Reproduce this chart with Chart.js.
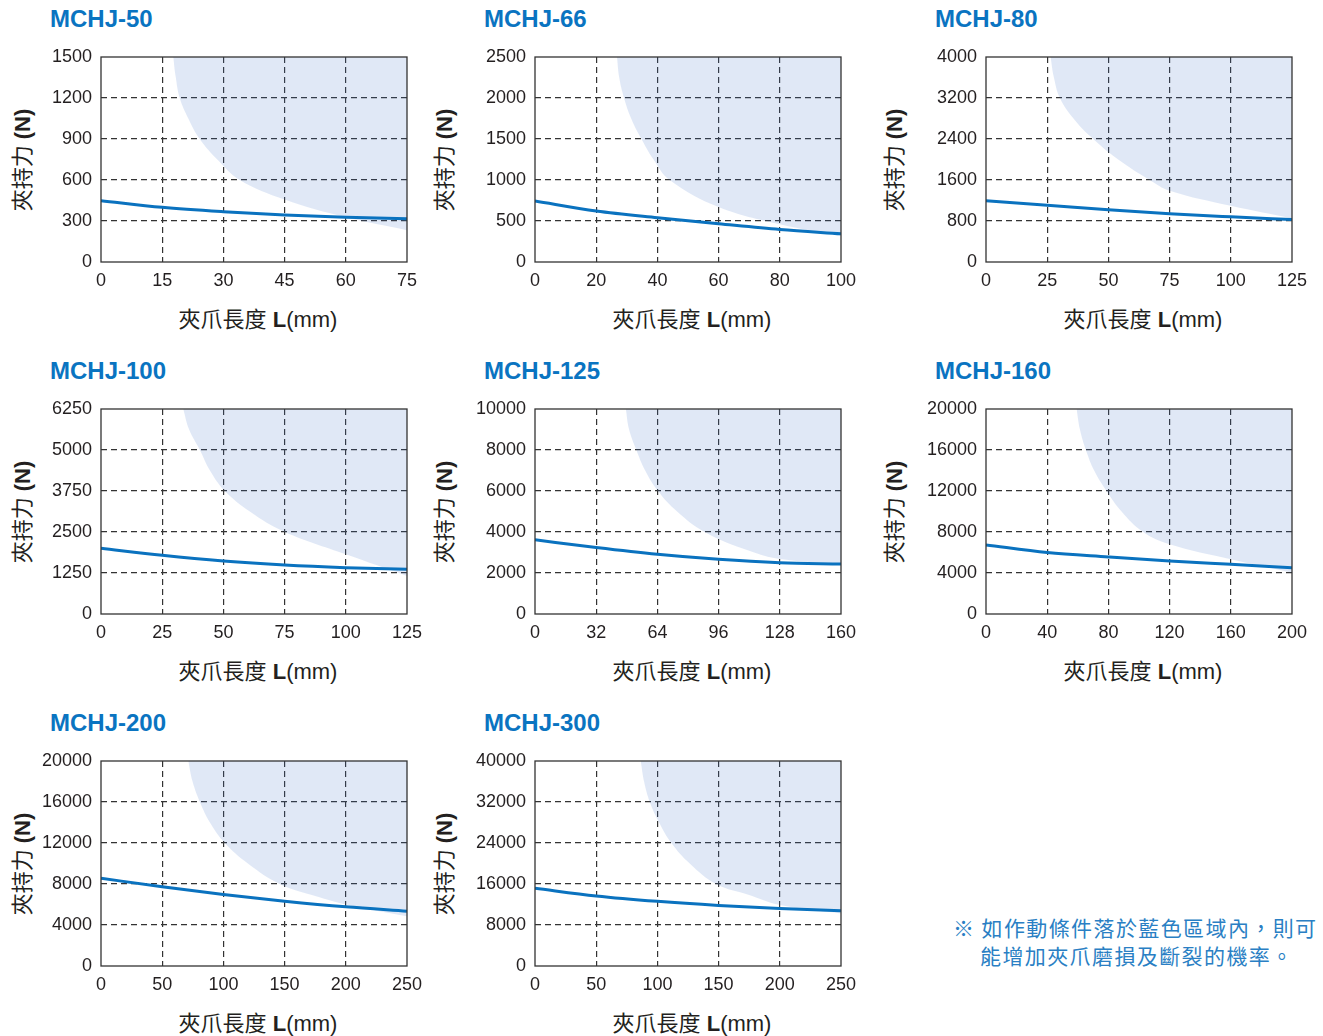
<!DOCTYPE html>
<html>
<head>
<meta charset="utf-8">
<script src="https://cdn.jsdelivr.net/npm/chart.js@4/dist/chart.umd.min.js"></script>
<style>
  body {
    margin: 0;
    background: #fff;
    width: 1323px;
    height: 1036px;
    position: relative;
    overflow: hidden;
    font-family: "Liberation Sans", "Noto Sans CJK TC", sans-serif;
  }
  canvas { position: absolute; }
  .title {
    position: absolute;
    font-weight: bold;
    font-size: 24px;
    line-height: 24px;
    color: #0a74c1;
    white-space: nowrap;
  }
  .ylab, .xlab {
    position: absolute;
    color: #231f20;
    white-space: nowrap;
    text-align: center;
    line-height: 24px;
    height: 24px;
  }
  .ylab { width: 160px; font-size: 22px; transform: rotate(-90deg); }
  .xlab { width: 240px; font-size: 22px; }
  .note {
    position: absolute;
    left: 953px;
    top: 913px;
    color: #2a7fc4;
    font-family: "Noto Sans CJK TC", sans-serif;
    font-size: 21px;
    line-height: 28px;
    letter-spacing: 1.4px;
    white-space: nowrap;
  }
  .note div + div { margin-left: 27px; }
</style>
</head>
<body>
<div class="note"><div>※ 如作動條件落於藍色區域內，則可</div><div>能增加夾爪磨損及斷裂的機率。</div></div>
<script>
// data
const models = ["MCHJ-50", "MCHJ-66", "MCHJ-80", "MCHJ-100", "MCHJ-125", "MCHJ-160", "MCHJ-200", "MCHJ-300"];
const xMax = [75, 100, 125, 125, 160, 200, 250, 250];
const yMax = [1500, 2500, 4000, 6250, 10000, 20000, 20000, 40000];

// gripping force line (clamp length L -> force N)
const forceX = [
  [0, 15, 30, 45, 60, 75],
  [0, 20, 40, 60, 80, 100],
  [0, 25, 50, 75, 100, 125],
  [0, 25, 50, 75, 100, 125],
  [0, 32, 64, 96, 128, 160],
  [0, 40, 80, 120, 160, 200],
  [0, 50, 100, 150, 200, 250],
  [0, 50, 100, 150, 200, 250]
];
const forceY = [
  [449, 400, 368, 344, 327, 317],
  [743, 621, 539, 466, 396, 343],
  [1194, 1109, 1018, 940, 881, 829],
  [2005, 1790, 1616, 1493, 1412, 1361],
  [3617, 3241, 2913, 2668, 2504, 2439],
  [6743, 5990, 5565, 5172, 4845, 4517],
  [8557, 7738, 6984, 6328, 5770, 5344],
  [15172, 13662, 12611, 11823, 11232, 10772]
];

// lower edge of the blue (risk) zone
const zoneX = [
  [17.7, 18.3, 19.3, 21.4, 24.2, 28.7, 34, 45, 60, 75],
  [26.8, 27.5, 29.1, 31.5, 34.8, 38.8, 44, 60, 80, 100],
  [26.4, 27.7, 30.2, 35.9, 43.8, 54, 66.9, 75, 100, 125],
  [33.6, 36, 40.4, 44.5, 50.6, 60.8, 75.1, 100, 125],
  [47.5, 49.2, 53, 57.6, 64.3, 74.3, 88.7, 112, 128, 160],
  [59.2, 61.4, 65.3, 70.7, 78.8, 88.6, 102.7, 120, 160, 200],
  [71.3, 74.8, 80.8, 89, 101.2, 120, 146, 175, 200, 250],
  [86.4, 89.1, 93.8, 101.4, 111.4, 126.4, 148, 175, 200, 250]
];
const zoneY = [
  [1500, 1357, 1200, 1050, 900, 744, 600, 457, 327, 233],
  [2500, 2255, 2000, 1744, 1500, 1246, 1000, 670, 460, 320],
  [4000, 3610, 3200, 2790, 2400, 2000, 1600, 1390, 1096, 850],
  [6250, 5625, 5000, 4375, 3750, 3125, 2500, 1820, 1160],
  [10000, 9000, 8000, 7000, 6000, 5000, 4000, 3080, 2680, 2450],
  [20000, 18000, 16000, 14000, 12000, 10000, 8000, 6800, 5340, 4030],
  [20000, 18000, 16000, 14000, 12000, 10000, 8000, 6820, 6000, 4850],
  [40000, 36000, 32000, 28000, 24000, 20000, 16000, 13860, 11900, 10250]
];

// layout
const colLeft = [101, 535, 986];
const rowTop = [57, 409, 761];
const ylabX = [23, 445, 895];

const framePlugin = {
  id: "frame",
  afterDraw(chart) {
    const { ctx, chartArea: a } = chart;
    ctx.save();
    ctx.strokeStyle = "#333";
    ctx.lineWidth = 1.3;
    ctx.strokeRect(a.left, a.top, a.right - a.left, a.bottom - a.top);
    ctx.restore();
  }
};

function addDiv(cls, html, left, top) {
  const d = document.createElement("div");
  d.className = cls;
  d.innerHTML = html;
  d.style.left = left + "px";
  d.style.top = top + "px";
  document.body.appendChild(d);
}

function gridColor(max) {
  return (c) => (c.tick && (c.tick.value === 0 || c.tick.value === max) ? "rgba(0,0,0,0)" : "#333");
}

models.forEach((name, i) => {
  const px = colLeft[i % 3];
  const py = rowTop[Math.floor(i / 3)];

  addDiv("title", name, px - 51, py - 50);
  addDiv("ylab", '夾持力 <b>(N)</b>', ylabX[i % 3] - 80, py + 103 - 12);
  addDiv("xlab", '夾爪長度 <b>L</b>(mm)', px + 157 - 120, py + 263 - 12);

  const cv = document.createElement("canvas");
  cv.width = 400;
  cv.height = 247;
  cv.style.left = px - 70 + "px";
  cv.style.top = py - 12 + "px";
  document.body.appendChild(cv);

  const forcePts = forceX[i].map((x, k) => ({ x: x, y: forceY[i][k] }));
  const zonePts = zoneX[i].map((x, k) => ({ x: x, y: zoneY[i][k] }));

  new Chart(cv, {
    type: "line",
    data: {
      datasets: [
        {
          data: forcePts,
          borderColor: "#0a72bf",
          borderWidth: 3,
          pointRadius: 0,
          cubicInterpolationMode: "monotone",
          fill: false,
          order: 1
        },
        {
          data: zonePts,
          borderWidth: 0,
          borderColor: "rgba(0,0,0,0)",
          backgroundColor: "rgba(60,110,200,0.16)",
          pointRadius: 0,
          tension: 0.4,
          fill: "end",
          order: 2
        }
      ]
    },
    options: {
      responsive: false,
      animation: false,
      events: [],
      layout: { padding: { top: 12, right: 24, left: 0, bottom: 0 } },
      plugins: { legend: { display: false }, tooltip: { enabled: false } },
      scales: {
        x: {
          type: "linear",
          min: 0,
          max: xMax[i],
          afterFit: (s) => { s.height = 30; s.paddingLeft = 0; s.paddingRight = 0; },
          border: { display: false, dash: [6, 4] },
          grid: { color: gridColor(xMax[i]), lineWidth: 1.2, drawTicks: false },
          ticks: {
            stepSize: xMax[i] / 5,
            padding: 8,
            color: "#231f20",
            font: { family: "Liberation Sans", size: 18 },
            maxRotation: 0,
            callback: (v) => String(v)
          }
        },
        y: {
          min: 0,
          max: yMax[i],
          afterFit: (s) => { s.width = 70; s.paddingTop = 0; s.paddingBottom = 0; },
          border: { display: false, dash: [6, 4] },
          grid: { color: gridColor(yMax[i]), lineWidth: 1.2, drawTicks: false },
          ticks: {
            stepSize: yMax[i] / 5,
            padding: 9,
            color: "#231f20",
            font: { family: "Liberation Sans", size: 18 },
            callback: (v) => String(v)
          }
        }
      }
    },
    plugins: [framePlugin]
  });
});
</script>
</body>
</html>
